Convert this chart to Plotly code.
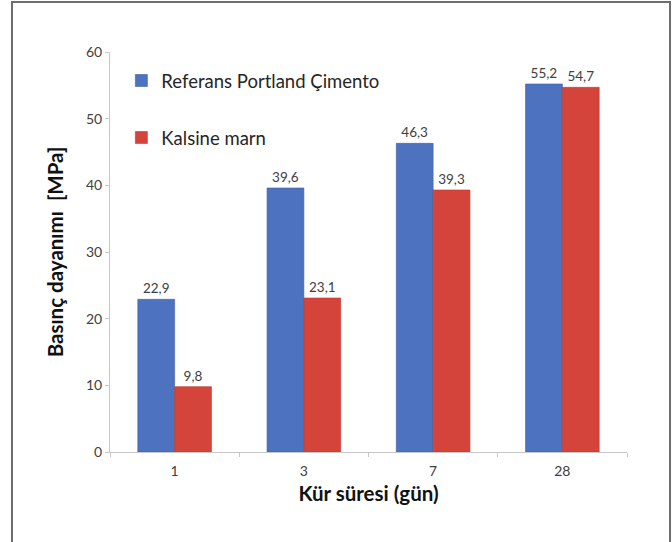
import plotly.graph_objects as go

# Cure time categories (days) and compressive strength values (MPa)
kur_suresi = ["1", "3", "7", "28"]
referans_portland = [22.9, 39.6, 46.3, 55.2]
kalsine_marn = [9.8, 23.1, 39.3, 54.7]
y_ticks = [0, 10, 20, 30, 40, 50, 60]

FONT = "Lato"
BLUE = "#4c72c0"
RED = "#d4443a"

fig = go.Figure()
fig.add_trace(go.Bar(
    x=kur_suresi, y=referans_portland, name="Referans Portland Çimento",
    marker=dict(color=BLUE, line=dict(color="#3f5f9f", width=0.6)),
    texttemplate="%{y:.1f}", textposition="outside", cliponaxis=False,
    textfont=dict(family=FONT, size=13.5, color="#404040"),
    legendgroup="a",
))
fig.add_trace(go.Bar(
    x=kur_suresi, y=kalsine_marn, name="Kalsine marn",
    marker=dict(color=RED, line=dict(color="#b83a32", width=0.6)),
    texttemplate="%{y:.1f}", textposition="outside", cliponaxis=False,
    textfont=dict(family=FONT, size=13.5, color="#404040"),
    legendgroup="b",
))

# Outer frame around the whole chart
fig.add_shape(type="rect", xref="paper", yref="paper",
              x0=-0.1896, x1=1.0832, y0=-0.235, y1=1.125,
              line=dict(color="#6e6e6e", width=2), layer="below")

fig.update_layout(
    width=672, height=542,
    margin=dict(l=110, r=45, t=52, b=90),
    paper_bgcolor="white", plot_bgcolor="white",
    separators=",.",
    barmode="group", bargap=0.43, bargroupgap=0,
    font=dict(family=FONT, color="#404040"),
    showlegend=True,
    legend=dict(
        x=0.022, y=0.975, xanchor="left", yanchor="top",
        bgcolor="rgba(0,0,0,0)",
        font=dict(family=FONT, size=18.5, color="#262626"),
        tracegroupgap=30, itemwidth=30,
    ),
    xaxis=dict(
        type="category",
        showline=True, linecolor="#c8c8c8", linewidth=1,
        ticks="outside", tickson="boundaries", ticklen=4, tickcolor="#c8c8c8",
        ticklabelstandoff=6,
        tickfont=dict(family=FONT, size=14, color="#404040"),
        title=dict(text="<b>Kür süresi (gün)</b>", standoff=8,
                   font=dict(family=FONT, size=20.5, color="#111111")),
        showgrid=False,
    ),
    yaxis=dict(
        range=[0, 60], tickvals=y_ticks,
        showline=True, linecolor="#c8c8c8", linewidth=1,
        ticks="outside", ticklen=4, tickcolor="#c8c8c8",
        tickfont=dict(family=FONT, size=14, color="#404040"),
        title=dict(text="<b>Basınç dayanımı  [MPa]</b>", standoff=16,
                   font=dict(family=FONT, size=20.5, color="#111111")),
        showgrid=False, zeroline=False,
    ),
)

fig.write_html("out.html")
